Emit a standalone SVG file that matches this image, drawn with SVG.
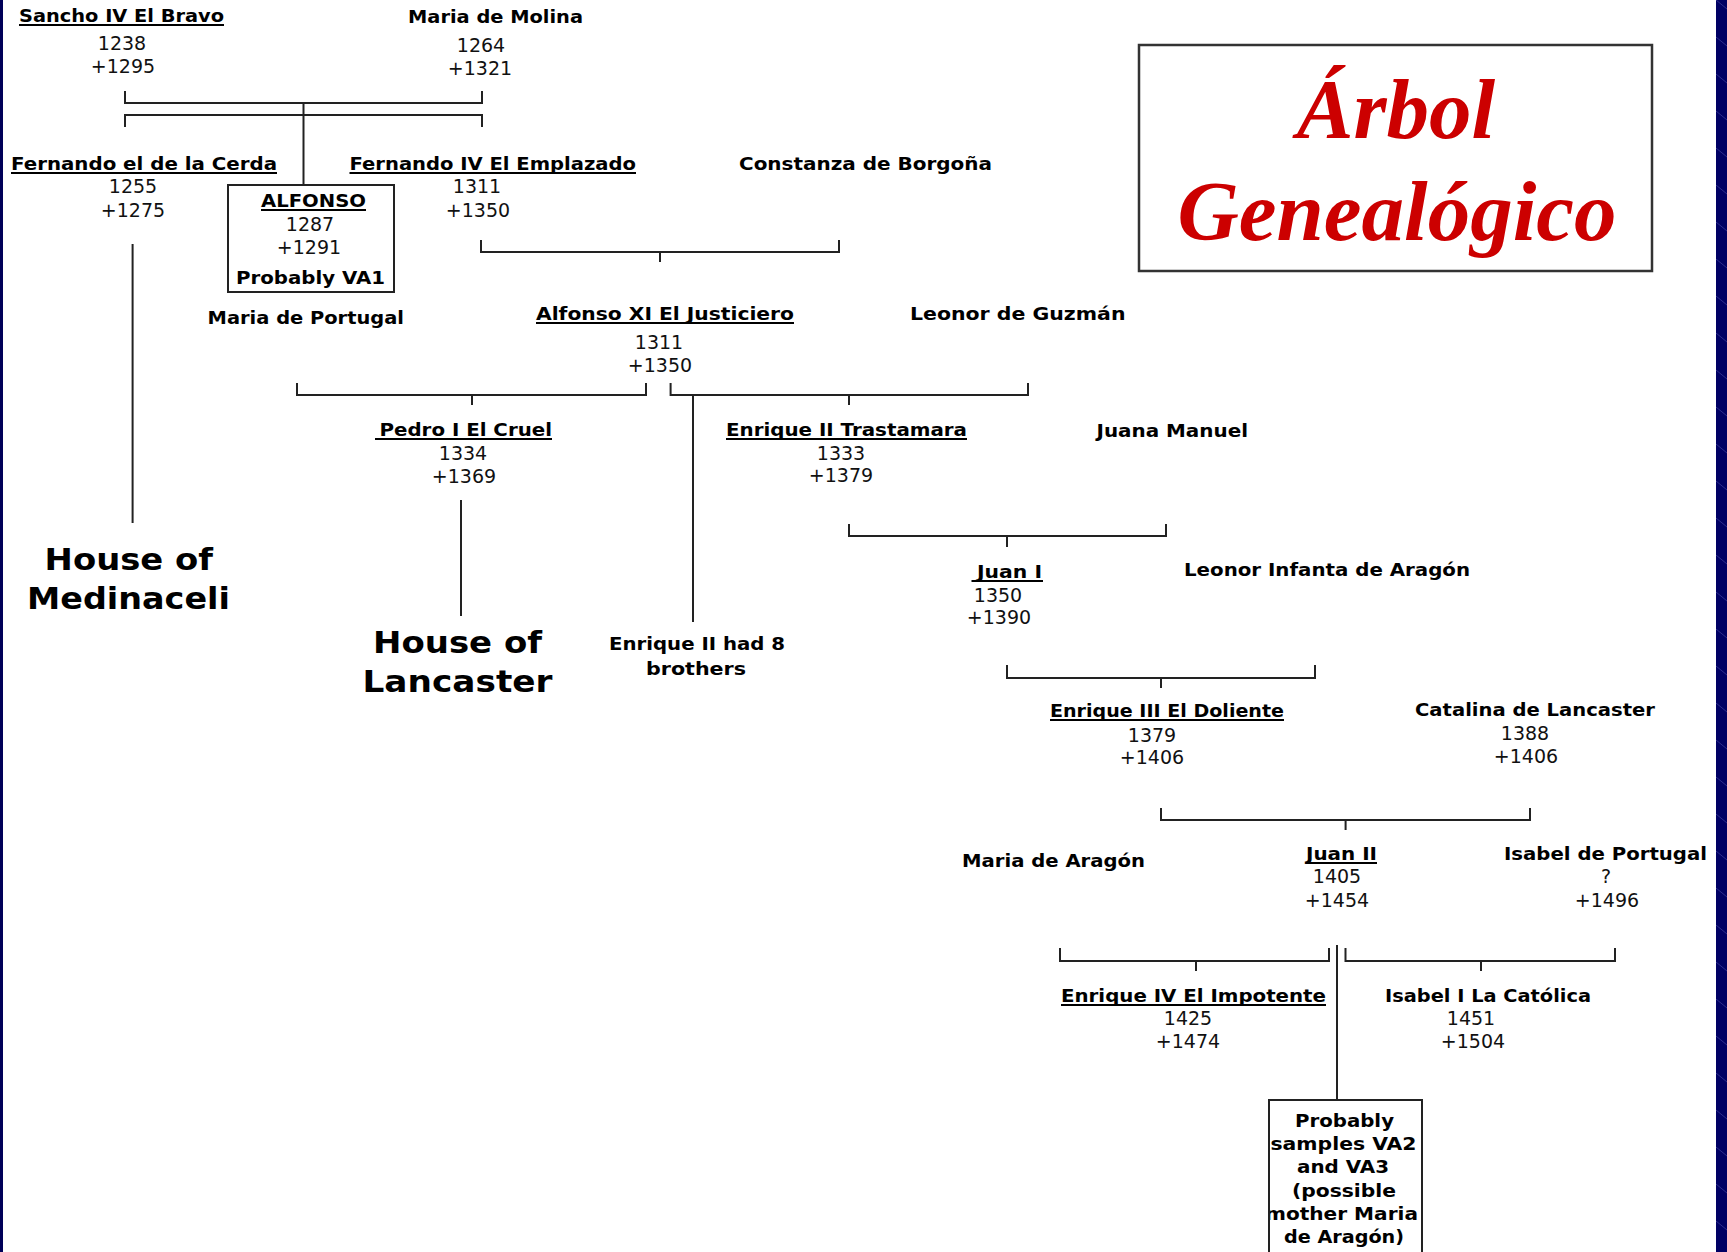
<svg xmlns="http://www.w3.org/2000/svg" width="1727" height="1252" viewBox="0 0 1727 1252">
  <style>
    .nm { font-family: "DejaVu Sans", "Liberation Sans", sans-serif; font-weight: bold; font-size: 18.5px; fill: #000; }
    .dt { font-family: "DejaVu Sans", "Liberation Sans", sans-serif; font-size: 19px; fill: #111; text-anchor: middle; }
    .big { font-family: "DejaVu Sans", "Liberation Sans", sans-serif; font-weight: bold; font-size: 30px; fill: #000; }
    .ttl { font-family: "Liberation Serif", "Times New Roman", serif; font-weight: bold; font-style: italic; font-size: 85px; fill: #CC0000; text-anchor: middle; }
    .ul { stroke: #000; stroke-width: 2; }
    .cn { stroke: #222; stroke-width: 2; fill: none; }
    .bx { stroke: #222; stroke-width: 2; fill: none; }
  </style>
  <defs>
    <pattern id="stripeTex" width="11" height="37" patternUnits="userSpaceOnUse">
      <rect width="11" height="37" fill="#000064"/>
      <line x1="0" y1="0" x2="11" y2="9" stroke="#2c2c8c" stroke-width="1"/>
    </pattern>
    <clipPath id="sampleBoxClip">
      <rect x="1269" y="1100" width="153" height="200"/>
    </clipPath>
  </defs>

  <!-- page -->
  <rect x="0" y="0" width="1727" height="1252" fill="#fff"/>
  <rect x="0" y="0" width="3" height="1252" fill="#000058"/>
  <rect x="1716" y="0" width="11" height="1252" fill="url(#stripeTex)"/>

  <!-- connectors -->
  <g id="connectors" class="cn">
    <path d="M125,91 V103 H482 V91"/>
    <path d="M125,127 V115 H482 V127"/>
    <path d="M303.5,103 V185"/>
    <path d="M132.6,244 V523"/>
    <path d="M481,240 V252 H839 V240 M660,252 V262"/>
    <path d="M297,383 V395 H646 V383 M472,395 V405"/>
    <path d="M670.6,383 V395 H1028 V383 M849,395 V405"/>
    <path d="M693,395 V622"/>
    <path d="M461,500 V616"/>
    <path d="M849,524 V536 H1166 V524 M1007,536 V547"/>
    <path d="M1007,665 V678 H1315 V665 M1161,678 V688"/>
    <path d="M1161,808 V820 H1530 V808 M1345.6,820 V830"/>
    <path d="M1060,948 V961 H1329 V948 M1196,961 V971"/>
    <path d="M1345.5,948 V961 H1615 V948 M1481,961 V971"/>
    <path d="M1337,945 V1100"/>
  </g>

  <!-- people -->
  <g id="sancho">
    <text class="nm" x="19" y="22" textLength="205" lengthAdjust="spacingAndGlyphs">Sancho IV El Bravo</text>
    <line class="ul" x1="19" y1="25" x2="224" y2="25"/>
    <text class="dt" x="122" y="50">1238</text>
    <text class="dt" x="123" y="73">+1295</text>
  </g>
  <g id="maria-molina">
    <text class="nm" x="408" y="23" textLength="175" lengthAdjust="spacingAndGlyphs">Maria de Molina</text>
    <text class="dt" x="481" y="52">1264</text>
    <text class="dt" x="480" y="75">+1321</text>
  </g>
  <g id="fernando-cerda">
    <text class="nm" x="11" y="170" textLength="266" lengthAdjust="spacingAndGlyphs">Fernando el de la Cerda</text>
    <line class="ul" x1="11" y1="173" x2="277" y2="173"/>
    <text class="dt" x="133" y="193">1255</text>
    <text class="dt" x="133" y="217">+1275</text>
  </g>
  <g id="alfonso">
    <rect class="bx" x="228" y="185" width="166" height="107"/>
    <text class="nm" x="261" y="207" textLength="105" lengthAdjust="spacingAndGlyphs">ALFONSO</text>
    <line class="ul" x1="261" y1="210" x2="366" y2="210"/>
    <text class="dt" x="310" y="231">1287</text>
    <text class="dt" x="309" y="254">+1291</text>
    <text class="nm" x="236" y="284" textLength="149" lengthAdjust="spacingAndGlyphs">Probably VA1</text>
  </g>
  <g id="fernando-iv">
    <text class="nm" x="349.5" y="170" textLength="286.5" lengthAdjust="spacingAndGlyphs">Fernando IV El Emplazado</text>
    <line class="ul" x1="349.5" y1="173" x2="636" y2="173"/>
    <text class="dt" x="477" y="193">1311</text>
    <text class="dt" x="478" y="217">+1350</text>
  </g>
  <g id="constanza">
    <text class="nm" x="739" y="170" textLength="253" lengthAdjust="spacingAndGlyphs">Constanza de Borgoña</text>
  </g>
  <g id="house-medinaceli">
    <text class="big" x="44.6" y="570" textLength="168.4" lengthAdjust="spacingAndGlyphs">House of</text>
    <text class="big" x="27" y="609" textLength="203" lengthAdjust="spacingAndGlyphs">Medinaceli</text>
  </g>
  <g id="maria-portugal">
    <text class="nm" x="207.6" y="324" textLength="196.4" lengthAdjust="spacingAndGlyphs">Maria de Portugal</text>
  </g>
  <g id="alfonso-xi">
    <text class="nm" x="536" y="320" textLength="258" lengthAdjust="spacingAndGlyphs">Alfonso XI El Justiciero</text>
    <line class="ul" x1="536" y1="323" x2="794" y2="323"/>
    <text class="dt" x="659" y="349">1311</text>
    <text class="dt" x="660" y="372">+1350</text>
  </g>
  <g id="leonor-guzman">
    <text class="nm" x="910" y="320" textLength="215.5" lengthAdjust="spacingAndGlyphs">Leonor de Guzmán</text>
  </g>
  <g id="pedro-i">
    <text class="nm" x="379.5" y="436" textLength="172.5" lengthAdjust="spacingAndGlyphs">Pedro I El Cruel</text>
    <line class="ul" x1="375" y1="439" x2="552" y2="439"/>
    <text class="dt" x="463" y="460">1334</text>
    <text class="dt" x="464" y="483">+1369</text>
  </g>
  <g id="house-lancaster">
    <text class="big" x="373" y="653" textLength="169" lengthAdjust="spacingAndGlyphs">House of</text>
    <text class="big" x="362.5" y="692" textLength="190" lengthAdjust="spacingAndGlyphs">Lancaster</text>
  </g>
  <g id="enrique-brothers">
    <text class="nm" x="609" y="650" textLength="176" lengthAdjust="spacingAndGlyphs">Enrique II had 8</text>
    <text class="nm" x="646" y="675" textLength="100" lengthAdjust="spacingAndGlyphs">brothers</text>
  </g>
  <g id="enrique-ii">
    <text class="nm" x="726" y="436" textLength="241" lengthAdjust="spacingAndGlyphs">Enrique II Trastamara</text>
    <line class="ul" x1="726" y1="439" x2="967" y2="439"/>
    <text class="dt" x="841" y="460">1333</text>
    <text class="dt" x="841" y="482">+1379</text>
  </g>
  <g id="juana-manuel">
    <text class="nm" x="1096.5" y="437" textLength="151.5" lengthAdjust="spacingAndGlyphs">Juana Manuel</text>
  </g>
  <g id="juan-i">
    <text class="nm" x="977" y="578" textLength="65" lengthAdjust="spacingAndGlyphs">Juan I</text>
    <line class="ul" x1="971.5" y1="581" x2="1043" y2="581"/>
    <text class="dt" x="998" y="602">1350</text>
    <text class="dt" x="999" y="624">+1390</text>
  </g>
  <g id="leonor-aragon">
    <text class="nm" x="1184" y="576" textLength="286" lengthAdjust="spacingAndGlyphs">Leonor Infanta de Aragón</text>
  </g>
  <g id="enrique-iii">
    <text class="nm" x="1050" y="717" textLength="234" lengthAdjust="spacingAndGlyphs">Enrique III El Doliente</text>
    <line class="ul" x1="1050" y1="720" x2="1284" y2="720"/>
    <text class="dt" x="1152" y="742">1379</text>
    <text class="dt" x="1152" y="764">+1406</text>
  </g>
  <g id="catalina">
    <text class="nm" x="1415" y="716" textLength="240" lengthAdjust="spacingAndGlyphs">Catalina de Lancaster</text>
    <text class="dt" x="1525" y="740">1388</text>
    <text class="dt" x="1526" y="763">+1406</text>
  </g>
  <g id="maria-aragon">
    <text class="nm" x="962" y="867" textLength="183" lengthAdjust="spacingAndGlyphs">Maria de Aragón</text>
  </g>
  <g id="juan-ii">
    <text class="nm" x="1306" y="860" textLength="71" lengthAdjust="spacingAndGlyphs">Juan II</text>
    <line class="ul" x1="1306" y1="863" x2="1377" y2="863"/>
    <text class="dt" x="1337" y="883">1405</text>
    <text class="dt" x="1337" y="907">+1454</text>
  </g>
  <g id="isabel-portugal">
    <text class="nm" x="1504" y="860" textLength="203" lengthAdjust="spacingAndGlyphs">Isabel de Portugal</text>
    <text class="dt" x="1606" y="883">?</text>
    <text class="dt" x="1607" y="907">+1496</text>
  </g>
  <g id="enrique-iv">
    <text class="nm" x="1061" y="1002" textLength="265" lengthAdjust="spacingAndGlyphs">Enrique IV El Impotente</text>
    <line class="ul" x1="1061" y1="1005" x2="1326" y2="1005"/>
    <text class="dt" x="1188" y="1025">1425</text>
    <text class="dt" x="1188" y="1048">+1474</text>
  </g>
  <g id="isabel-i">
    <text class="nm" x="1385" y="1002" textLength="206" lengthAdjust="spacingAndGlyphs">Isabel I La Católica</text>
    <text class="dt" x="1471" y="1025">1451</text>
    <text class="dt" x="1473" y="1048">+1504</text>
  </g>
  <g id="samples-va2-va3">
    <g clip-path="url(#sampleBoxClip)">
      <text class="nm" x="1295" y="1127" textLength="99" lengthAdjust="spacingAndGlyphs">Probably</text>
      <text class="nm" x="1270.5" y="1150" textLength="146" lengthAdjust="spacingAndGlyphs">samples VA2</text>
      <text class="nm" x="1297" y="1173" textLength="92" lengthAdjust="spacingAndGlyphs">and VA3</text>
      <text class="nm" x="1292" y="1197" textLength="104" lengthAdjust="spacingAndGlyphs">(possible</text>
      <text class="nm" x="1265" y="1220" textLength="153" lengthAdjust="spacingAndGlyphs">mother Maria</text>
      <text class="nm" x="1284" y="1243" textLength="120" lengthAdjust="spacingAndGlyphs">de Aragón)</text>
    </g>
    <rect class="bx" x="1269" y="1100" width="153" height="200"/>
  </g>

  <!-- title -->
  <g id="title">
    <rect x="1139" y="45" width="513" height="226" fill="#fff" stroke="#333" stroke-width="2.5"/>
    <text class="ttl" x="1396" y="138">Árbol</text>
    <text class="ttl" x="1397" y="240">Genealógico</text>
  </g>
</svg>
